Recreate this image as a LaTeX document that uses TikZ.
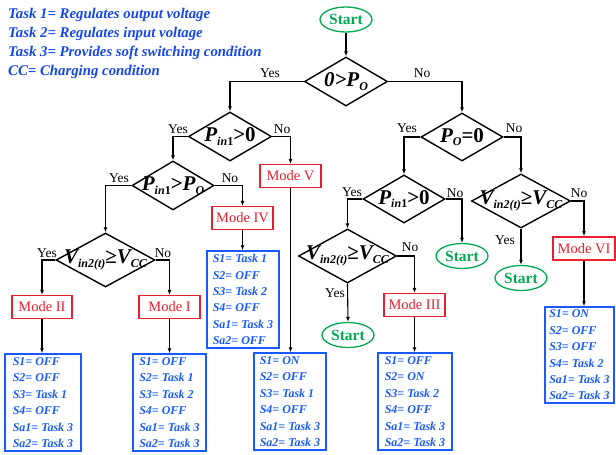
\documentclass[tikz,border=0pt]{standalone}
\usepackage{fontspec}
\setmainfont{Liberation Serif}
\usetikzlibrary{shapes.geometric,arrows.meta}
\definecolor{legblue}{RGB}{20,70,235}
\definecolor{boxblue}{RGB}{25,90,255}
\definecolor{modered}{RGB}{235,30,45}
\definecolor{startgreen}{RGB}{0,170,80}
\newcommand\sbs[1]{\raisebox{-0.35ex}{\fontsize{12}{12}\selectfont #1}}
\newcommand\dPinZero{\textit{P}\sbs{\textit{in}1}>0}
\newcommand\dVin{\textit{V\sbs{in2(t)}}≥\textit{V\sbs{CC}}}
\begin{document}
\begin{tikzpicture}[x=1pt,y=-1pt,
 dia/.style={diamond,draw,line width=1.4pt,inner sep=0pt},
 dtext/.style={font=\fontsize{21}{21}\selectfont\bfseries,inner sep=0pt},
 mode/.style={draw=modered,line width=1.2pt,text=modered,minimum height=23pt,inner sep=0pt,font=\fontsize{14.5}{14.5}\selectfont},
 startnode/.style={ellipse,draw=startgreen,line width=1.3pt,text=startgreen,minimum width=52pt,minimum height=25pt,inner sep=0pt,font=\fontsize{15.5}{15.5}\selectfont\bfseries},
 bbox/.style={draw=boxblue,line width=1.5pt,text=boxblue,align=left,inner sep=0pt,minimum height=97pt,font=\fontsize{12}{16.4}\selectfont\bfseries\itshape},
 conn/.style={line width=1.1pt,-{Latex[length=5pt,width=4pt]}},
 lab/.style={font=\fontsize{13.5}{13.5}\selectfont,inner sep=0pt},
 leg/.style={anchor=base west,text=legblue,font=\fontsize{14.8}{14.8}\selectfont\bfseries\itshape,inner sep=0pt}
]
\useasboundingbox (0,0) rectangle (616,455);

% legend
\node[leg] (l1) at (8,18) {Task 1= Regulates output voltage};
\node[leg] (l2) at (8,37) {Task 2= Regulates input voltage};
\node[leg] (l3) at (8,56) {Task 3= Provides soft switching condition};
\node[leg] (l4) at (8,75) {CC= Charging condition};

% start and decisions
\node[startnode] (s1) at (346,19.5) {Start};
\node[dia,minimum width=83pt,minimum height=49pt] (d1) at (346,81.5) {};
\node[dtext] (d1t) at (d1) {\textit{0>P\sbs{O}}};
\node[dia,minimum width=83pt,minimum height=49pt] (d2) at (230,136.5) {};
\node[dtext] (d2t) at (d2) {\dPinZero};
\node[dia,minimum width=82pt,minimum height=48pt] (d3) at (462,137) {};
\node[dtext] (d3t) at (d3) {\textit{P\sbs{O}}=0};
\node[dia,minimum width=82pt,minimum height=49pt] (d4) at (173,185.5) {};
\node[dtext] (d4t) at (d4) {\textit{P}\sbs{\textit{in}1}>\textit{P\sbs{O}}};
\node[dia,minimum width=99pt,minimum height=54pt] (d5) at (105.5,260) {};
\node[dtext] (d5t) at (d5) {\dVin};
\node[dia,minimum width=82pt,minimum height=48pt] (d6) at (404,199) {};
\node[dtext] (d6t) at (d6) {\dPinZero};
\node[dia,minimum width=99pt,minimum height=54pt] (d7) at (521,201) {};
\node[dtext] (d7t) at (d7) {\dVin};
\node[dia,minimum width=98pt,minimum height=54pt] (d8) at (347.5,256) {};
\node[dtext] (d8t) at (d8) {\dVin};

\node[startnode] (s2) at (462,256) {Start};
\node[startnode] (s3) at (348,335) {Start};
\node[startnode] (s4) at (521,278) {Start};

% modes
\node[mode,minimum width=61pt] (m5) at (290.5,176) {Mode V};
\node[mode,minimum width=61pt] (m4) at (242.5,218) {Mode IV};
\node[mode,minimum width=60pt] (m2) at (42,307) {Mode II};
\node[mode,minimum width=61pt] (m1) at (169.5,307) {Mode I};
\node[mode,minimum width=61pt] (m3) at (414.5,305) {Mode III};
\node[mode,minimum width=62pt] (m6) at (584,248.5) {Mode VI};

% switch boxes
\node[bbox,minimum width=76pt] (b2) at (43,402.5) {S1= OFF\\S2= OFF\\S3= Task 1\\S4= OFF\\Sa1= Task 3\\Sa2= Task 3};
\node[bbox,minimum width=73pt] (b1) at (169.5,402.5) {S1= OFF\\S2= Task 1\\S3= Task 2\\S4= OFF\\Sa1= Task 3\\Sa2= Task 3};
\node[bbox,minimum width=72pt] (b4) at (243,299.5) {S1= Task 1\\S2= OFF\\S3= Task 2\\S4= OFF\\Sa1= Task 3\\Sa2= OFF};
\node[bbox,minimum width=72pt] (b5) at (290,401.5) {S1= ON\\S2= OFF\\S3= Task 1\\S4= OFF\\Sa1= Task 3\\Sa2= Task 3};
\node[bbox,minimum width=74pt] (b3) at (415,401.5) {S1= OFF\\S2= ON\\S3= Task 2\\S4= OFF\\Sa1= Task 3\\Sa2= Task 3};
\node[bbox,minimum width=69pt,minimum height=96pt] (b6) at (579.5,355) {S1= ON\\S2= OFF\\S3= OFF\\S4= Task 2\\Sa1= Task 3\\Sa2= Task 3};

% connectors
\draw[conn] (s1) -- (d1);
\draw[conn] (d1.west) -| (d2.north);
\draw[conn] (d1.east) -| (d3.north);
\draw[conn] (d2.west) -| (d4.north);
\draw[conn] (d2.east) -| (m5.north);
\draw[conn] (d4.west) -| (d5.north);
\draw[conn] (d4.east) -| (m4.north);
\draw[conn] (d5.west) -| (m2.north);
\draw[conn] (d5.east) -| (m1.north);
\draw[conn] (d3.west) -| (d6.north);
\draw[conn] (d3.east) -| (d7.north);
\draw[conn] (d6.west) -| (d8.north);
\draw[conn] (d6.east) -| (s2.north);
\draw[conn] (d8.south) -- (s3.north);
\draw[conn] (d8.east) -| (m3.north);
\draw[conn] (d7.south) -- (s4.north);
\draw[conn] (d7.east) -| (m6.north);
\draw[conn] (m2.south) -- (m2.south |- b2.north);
\draw[conn] (m1.south) -- (m1.south |- b1.north);
\draw[conn] (m4.south) -- (m4.south |- b4.north);
\draw[conn] (m5.south) -- (m5.south |- b5.north);
\draw[conn] (m3.south) -- (m3.south |- b3.north);
\draw[conn] (m6.south) -- (m6.south |- b6.north);

% yes/no labels
\node[lab] (y1) at (270,73) {Yes};
\node[lab] (n1) at (422,73) {No};
\node[lab] (y2) at (178,129) {Yes};
\node[lab] (n2) at (282,129) {No};
\node[lab] (y3) at (407,128) {Yes};
\node[lab] (n3) at (514,128) {No};
\node[lab] (y4) at (119,178) {Yes};
\node[lab] (n4) at (230,178) {No};
\node[lab] (y5) at (47,253) {Yes};
\node[lab] (n5) at (163,253) {No};
\node[lab] (y6) at (352,192) {Yes};
\node[lab] (n6) at (455,193) {No};
\node[lab] (y7) at (505,240) {Yes};
\node[lab] (n7) at (579,193) {No};
\node[lab] (y8) at (335,293) {Yes};
\node[lab] (n8) at (410,247) {No};
\end{tikzpicture}
\end{document}
